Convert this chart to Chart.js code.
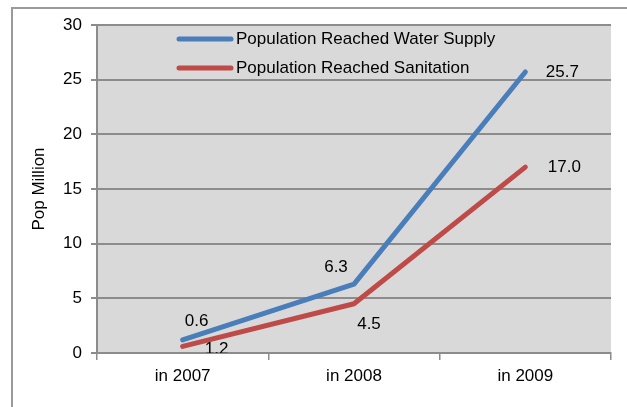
<!DOCTYPE html>
<html>
<head>
<meta charset="utf-8">
<script src="https://cdn.jsdelivr.net/npm/chart.js@4"></script>
<style>
  html, body { margin: 0; padding: 0; background: #fff; overflow: hidden; }
  #frame { position: absolute; left: 11px; top: 7px; width: 700px; height: 500px; border: 2px solid #9a9a9a; box-sizing: border-box; }
  #wrap { position: absolute; left: 0; top: 0; width: 627px; height: 407px; }
</style>
</head>
<body>
<div id="frame"></div>
<div id="wrap"><canvas id="grafico" width="627" height="407"></canvas></div>
<script>
const anios = ["in 2007", "in 2008", "in 2009"];
const agua = [1.2, 6.3, 25.7];
const saneamiento = [0.6, 4.5, 17.0];
const ticksY = [0, 5, 10, 15, 20, 25, 30];

const FUENTE = "'Liberation Sans', Arial, sans-serif";

// fondo gris del area de trazado
const fondoArea = {
  id: "fondoArea",
  beforeDraw(chart) {
    const { ctx, chartArea: a } = chart;
    ctx.save();
    ctx.fillStyle = "#d9d9d9";
    ctx.fillRect(a.left, a.top, a.right - a.left, a.bottom - a.top);
    ctx.restore();
  }
};

// etiquetas de valor junto a cada punto (desplazamiento por serie y punto)
const desplazamientos = [
  [[34, 9], [-18, -17], [37, 0]],
  [[14, -25], [15, 21], [39, 0]]
];
const etiquetas = {
  id: "etiquetas",
  afterDatasetsDraw(chart) {
    const { ctx, chartArea: a } = chart;
    ctx.save();
    ctx.beginPath();
    ctx.rect(a.left, a.top, a.right - a.left, a.bottom - a.top);
    ctx.clip();
    ctx.font = "17px " + FUENTE;
    ctx.fillStyle = "#000";
    ctx.textAlign = "center";
    ctx.textBaseline = "middle";
    chart.data.datasets.forEach((ds, i) => {
      chart.getDatasetMeta(i).data.forEach((p, j) => {
        const [dx, dy] = desplazamientos[i][j];
        ctx.fillText(ds.data[j].toFixed(1), p.x + dx, p.y + dy);
      });
    });
    ctx.restore();
  }
};

// leyenda dentro del area de trazado
const leyenda = {
  id: "leyenda",
  afterDraw(chart) {
    const { ctx } = chart;
    ctx.save();
    ctx.font = "17px " + FUENTE;
    ctx.textBaseline = "middle";
    ctx.lineCap = "round";
    chart.data.datasets.forEach((ds, i) => {
      const y = 39 + i * 29;
      ctx.strokeStyle = ds.borderColor;
      ctx.lineWidth = 5;
      ctx.beginPath();
      ctx.moveTo(179, y);
      ctx.lineTo(231, y);
      ctx.stroke();
      ctx.fillStyle = "#000";
      ctx.fillText(ds.label, 236, y);
    });
    ctx.restore();
  }
};

const ctx = document.getElementById("grafico").getContext("2d");

new Chart(ctx, {
  type: "line",
  data: {
    labels: anios,
    datasets: [
      {
        label: "Population Reached Water Supply",
        data: agua,
        borderColor: "#4a7ebb",
        borderWidth: 5,
        pointRadius: 0,
        tension: 0,
        borderCapStyle: "round",
        borderJoinStyle: "round"
      },
      {
        label: "Population Reached Sanitation",
        data: saneamiento,
        borderColor: "#be4b48",
        borderWidth: 5,
        pointRadius: 0,
        tension: 0,
        borderCapStyle: "round",
        borderJoinStyle: "round"
      }
    ]
  },
  options: {
    responsive: false,
    animation: false,
    layout: { padding: { left: 0, top: 25, right: 16, bottom: 0 } },
    plugins: {
      legend: { display: false },
      tooltip: { enabled: false }
    },
    scales: {
      x: {
        offset: true,
        afterFit(s) { s.height = 54; },
        grid: { offset: true, drawOnChartArea: false, color: "#8c8c8c", lineWidth: 1.5, tickLength: 7 },
        border: { color: "#8c8c8c", width: 2 },
        ticks: { color: "#000", font: { family: FUENTE, size: 17 }, padding: 6 }
      },
      y: {
        min: 0,
        max: 30,
        afterFit(s) { s.width = 97; },
        afterBuildTicks(s) { s.ticks = ticksY.map(v => ({ value: v })); },
        grid: { color: "#8c8c8c", lineWidth: 2, tickLength: 6 },
        border: { color: "#8c8c8c", width: 2 },
        title: { display: true, text: "Pop Million", color: "#000", font: { family: FUENTE, size: 17 }, padding: { top: 29, bottom: 0 } },
        ticks: { color: "#000", font: { family: FUENTE, size: 17 }, padding: 9 }
      }
    }
  },
  plugins: [fondoArea, etiquetas, leyenda]
});
</script>
</body>
</html>
